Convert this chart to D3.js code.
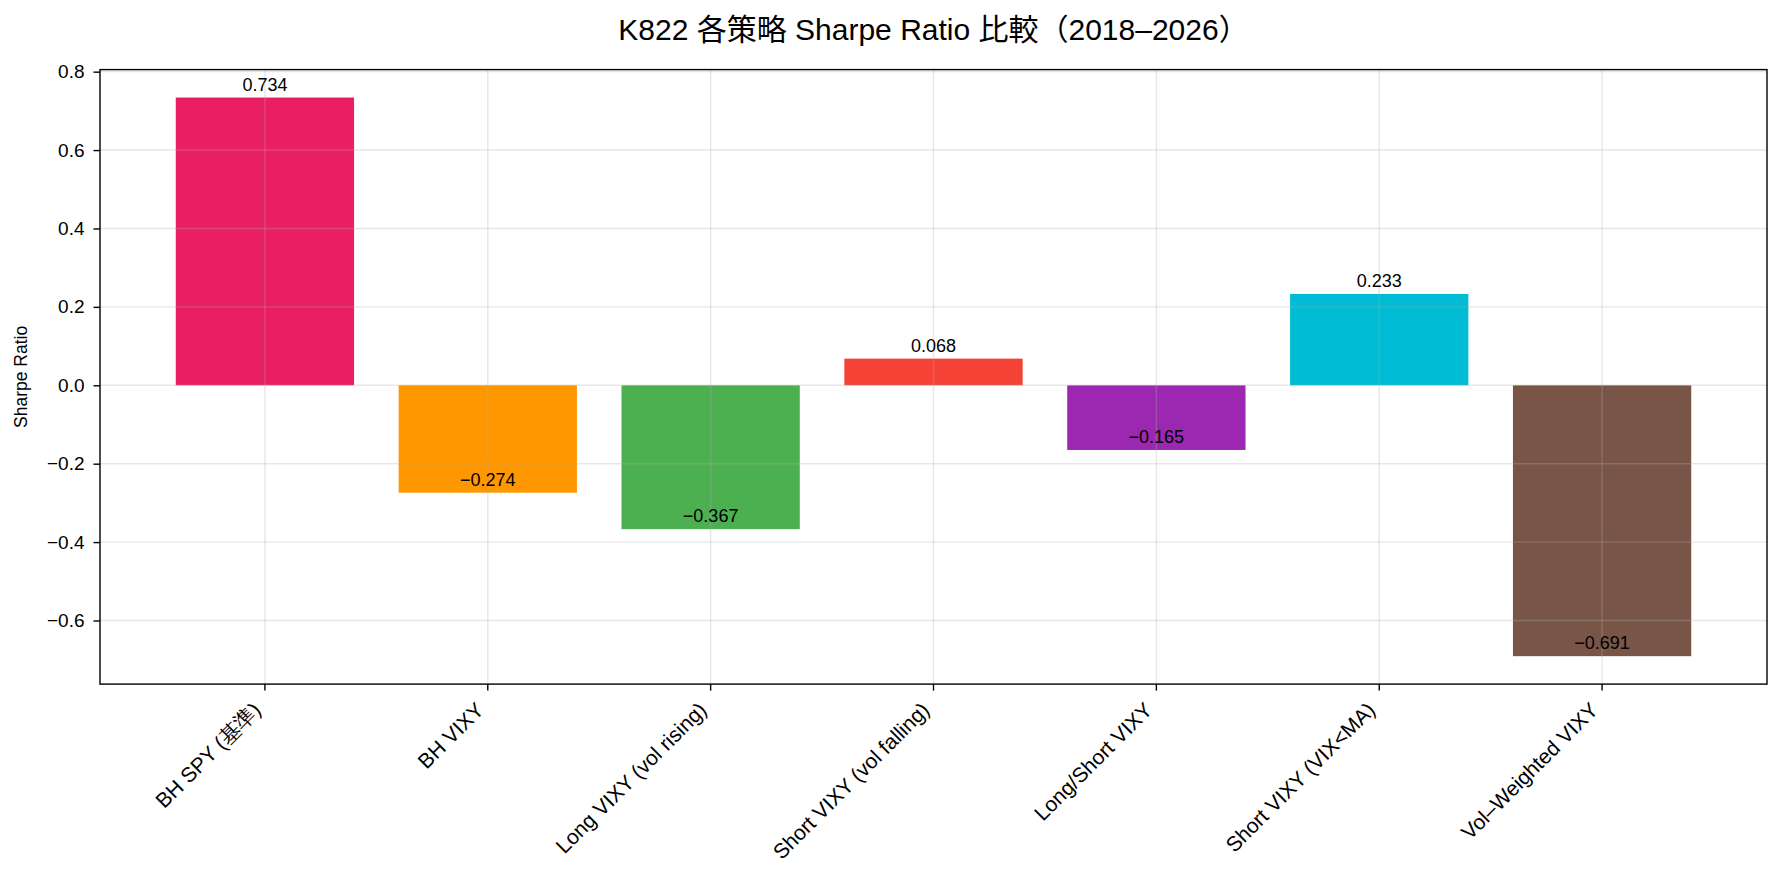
<!DOCTYPE html>
<html>
<head>
<meta charset="utf-8">
<script src="https://cdn.jsdelivr.net/npm/d3@7"></script>
<style>
    body { margin: 0; background: #fff; }
    svg { display: block; font-family: "Liberation Sans", "Noto Sans CJK JP", sans-serif; }
</style>
</head>
<body>
<svg class="chart"></svg>
<script>
const strategies = [`BH SPY (基準)`, `BH VIXY`, `Long VIXY (vol rising)`, `Short VIXY (vol falling)`, `Long/Short VIXY`, `Short VIXY (VIX<MA)`, `Vol–Weighted VIXY`];
const sharpe = [0.734, -0.274, -0.367, 0.068, -0.165, 0.233, -0.691];
const barColors = [`#E91E63`, `#FF9800`, `#4CAF50`, `#F44336`, `#9C27B0`, `#00BCD4`, `#795548`];
const yTicks = [-0.6, -0.4, -0.2, 0, 0.2, 0.4, 0.6, 0.8];
const titleText = `K822 各策略 Sharpe Ratio 比較（2018–2026）`;

const width = 1782;
const height = 883;
const margin = { top: 69.6, right: 15, bottom: 198.9, left: 100 };

const fmt = v => d3.format(`.1f`)(v).replace(`-`, `−`);
const fmtVal = v => d3.format(`.3f`)(v).replace(`-`, `−`);

const chart = d3.select(`.chart`)
    .attr(`width`, width)
    .attr(`height`, height);

const lo = d3.min(sharpe.concat([0]));
const hi = d3.max(sharpe.concat([0]));
const pad = (hi - lo) * 0.05;

const xScale = d3.scaleBand()
    .domain(strategies)
    .range([margin.left, width - margin.right])
    .paddingInner(0.2)
    .paddingOuter(0.34);

const yScale = d3.scaleLinear()
    .domain([lo - pad, hi + pad])
    .range([height - margin.bottom, margin.top]);

const bottom = height - margin.bottom;

// bars
chart.append(`g`).selectAll(`rect`)
    .data(sharpe)
    .enter()
    .append(`rect`)
    .attr(`x`, (d, i) => xScale(strategies[i]))
    .attr(`width`, xScale.bandwidth())
    .attr(`y`, d => yScale(Math.max(d, 0)))
    .attr(`height`, d => Math.abs(yScale(d) - yScale(0)))
    .attr(`fill`, (d, i) => barColors[i]);

// grid over bars
const grid = chart.append(`g`)
    .attr(`stroke`, `#b0b0b0`)
    .attr(`stroke-opacity`, 0.3)
    .attr(`stroke-width`, 1.4);
grid.selectAll(`line.h`)
    .data(yTicks)
    .enter()
    .append(`line`)
    .attr(`x1`, margin.left)
    .attr(`x2`, width - margin.right)
    .attr(`y1`, d => yScale(d))
    .attr(`y2`, d => yScale(d));
grid.selectAll(`line.v`)
    .data(strategies)
    .enter()
    .append(`line`)
    .attr(`x1`, d => xScale(d) + xScale.bandwidth() / 2)
    .attr(`x2`, d => xScale(d) + xScale.bandwidth() / 2)
    .attr(`y1`, margin.top)
    .attr(`y2`, bottom);

// value labels
chart.append(`g`).selectAll(`text`)
    .data(sharpe)
    .enter()
    .append(`text`)
    .attr(`x`, (d, i) => xScale(strategies[i]) + xScale.bandwidth() / 2)
    .attr(`y`, d => yScale(d) - 7)
    .attr(`text-anchor`, `middle`)
    .attr(`font-size`, 18)
    .attr(`fill`, `#000`)
    .text(d => fmtVal(d));

// y axis
const yAxis = d3.axisLeft(yScale)
    .tickValues(yTicks)
    .tickFormat(fmt)
    .tickSize(6.5)
    .tickPadding(9);
const yG = chart.append(`g`)
    .attr(`transform`, `translate(${margin.left}, 0)`)
    .call(yAxis);
yG.select(`.domain`).remove();
yG.selectAll(`line`).attr(`stroke`, `#000`).attr(`stroke-width`, 1.4);
yG.selectAll(`text`).attr(`font-size`, 19).attr(`font-family`, null).attr(`fill`, `#000`);

// x axis
const xAxis = d3.axisBottom(xScale)
    .tickSize(6.5)
    .tickPadding(0);
const xG = chart.append(`g`)
    .attr(`transform`, `translate(0, ${bottom})`)
    .call(xAxis);
xG.select(`.domain`).remove();
xG.selectAll(`line`).attr(`stroke`, `#000`).attr(`stroke-width`, 1.4);
xG.selectAll(`text`)
    .attr(`font-size`, 21)
    .attr(`font-family`, null)
    .attr(`fill`, `#000`)
    .attr(`text-anchor`, `end`)
    .attr(`dy`, null)
    .attr(`dominant-baseline`, `central`)
    .attr(`y`, 0)
    .attr(`transform`, `translate(-8, 22) rotate(-45)`);

// frame
chart.append(`rect`)
    .attr(`x`, margin.left)
    .attr(`y`, margin.top)
    .attr(`width`, width - margin.left - margin.right)
    .attr(`height`, bottom - margin.top)
    .attr(`fill`, `none`)
    .attr(`stroke`, `#000`)
    .attr(`stroke-width`, 1.4);

// y label
chart.append(`text`)
    .attr(`transform`, `translate(27, ${(margin.top + bottom) / 2}) rotate(-90)`)
    .attr(`text-anchor`, `middle`)
    .attr(`font-size`, 17.5)
    .text(`Sharpe Ratio`);

// title
chart.append(`text`)
    .attr(`x`, (margin.left + width - margin.right) / 2)
    .attr(`y`, 40)
    .attr(`text-anchor`, `middle`)
    .attr(`font-size`, 30)
    .text(titleText);
</script>
</body>
</html>
